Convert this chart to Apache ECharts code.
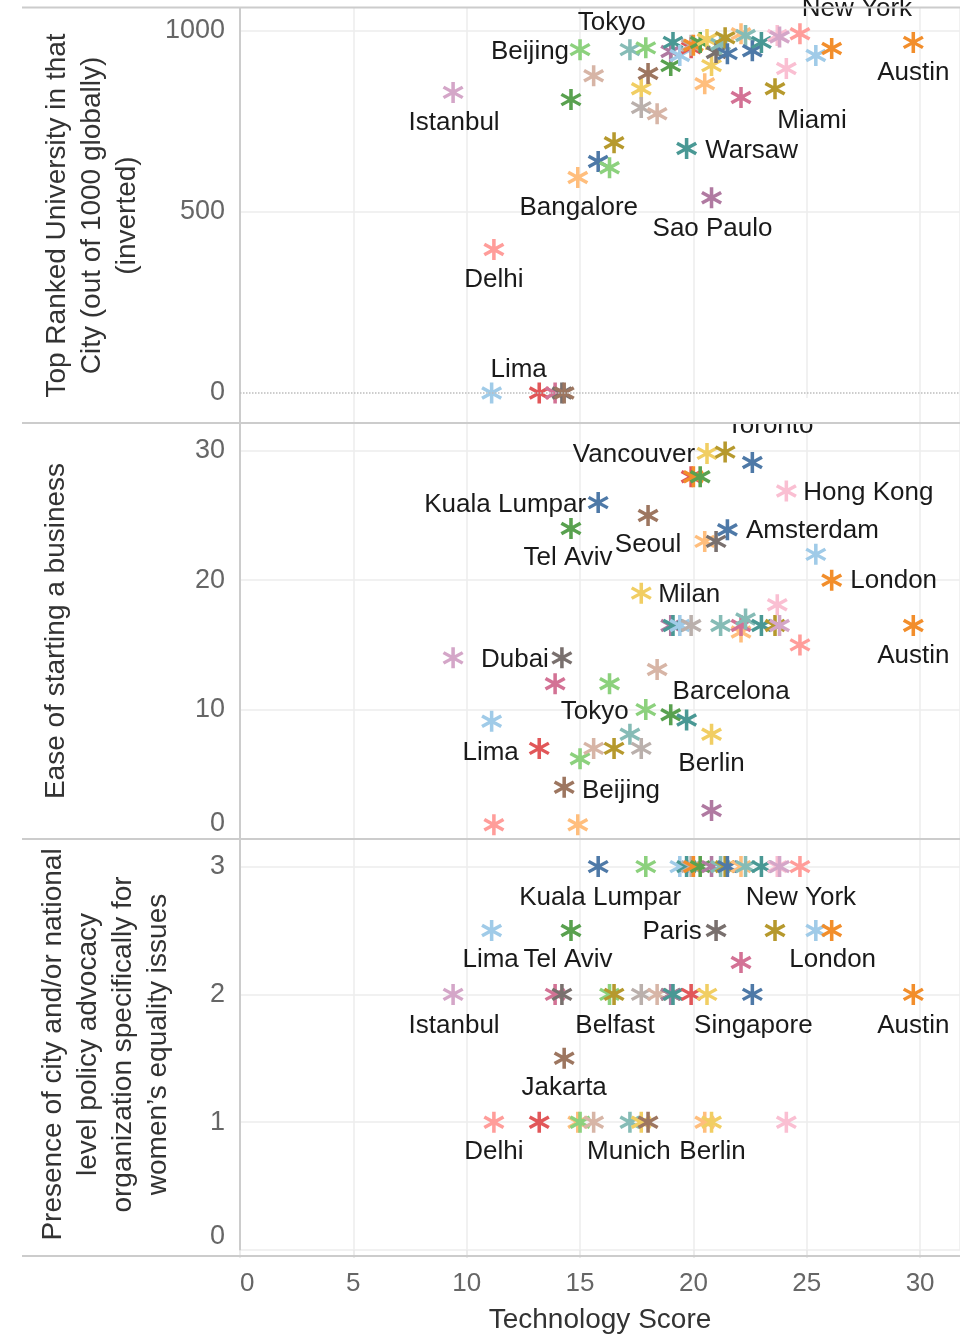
<!DOCTYPE html>
<html>
<head>
<meta charset="utf-8">
<script src="https://cdn.jsdelivr.net/npm/echarts@6/dist/echarts.min.js"></script>
<style>
html,body{margin:0;padding:0;background:#fff}
#main{width:960px;height:1335px}
</style>
</head>
<body>
<div id="main"></div>
<script>
// cities, in order of technology score (unlabelled ones have no name in the picture)
var cities = ['Istanbul','Delhi','Lima','u3','u4','Dubai','Jakarta','Tel Aviv','Bangalore','Beijing',
  'u10','Kuala Lumpar','u12','Belfast','Munich','Milan','u16','Tokyo','Seoul','Barcelona',
  'u20','u21','u22','u23','Warsaw','u25','u26','u27','u28','u29',
  'Vancouver','Sao Paulo','Berlin','Paris','u34','Toronto','Amsterdam','u37','u38','u39',
  'Singapore','u41','Miami','u43','u44','Hong Kong','New York','u47','London','Austin'];
var techScore = [9.4,11.2,11.1,13.2,13.9,14.2,14.3,14.6,14.9,15.0,
  15.6,15.8,16.3,16.5,17.2,17.7,17.7,17.9,18.0,18.4,
  19.0,19.0,19.1,19.4,19.7,19.9,19.9,20.0,20.3,20.5,
  20.6,20.8,20.8,21.0,21.2,21.4,21.5,22.1,22.1,22.3,
  22.6,23.0,23.6,23.7,23.8,24.1,24.7,25.4,26.1,29.7];
var topUniversity = [830,396,0,0,0,0,0,810,595,948,
  876,639,622,691,948,840,788,953,882,771,
  904,943,968,932,675,953,960,960,968,854,
  976,539,904,940,963,981,937,992,816,987,
  945,968,840,987,983,896,992,932,951,968];
var easeOfBusiness = [14,1.1,9.1,7,12,14,4,24,1.1,6.2,
  7,26,12,7,8.1,19,7,10,25,13.1,
  9.6,16.5,16.5,16.5,9.2,28,16.5,28,28,23,
  29.8,2.2,8.1,23,16.5,29.9,23.9,16,16.5,17,
  29.1,16.5,16.5,18.1,16.5,26.9,15,22,20,16.5];
var advocacyOrg = [2,1,2.5,1,2,2,1.5,2.5,1,1,
  1,3,2,2,1,1,2,3,1,2,
  2,2,2,3,3,2,3,3,3,1,
  2,3,1,2.5,3,3,3,3,2.25,3,
  2,3,2.5,3,3,1,3,2.5,2.5,2];
var cityHue = ['lightPurple','salmon','lightBlue','red','pink','gray','brown','green','lightOrange','lightGreen',
  'lightBrown','blue','lightGreen','olive','lightTeal','yellow','lightGray','lightGreen','brown','lightBrown',
  'green','purple','teal','lightBlue','teal','red','lightGray','orange','green','lightOrange',
  'yellow','purple','yellow','gray','lightTeal','olive','blue','lightOrange','pink','lightTeal',
  'blue','teal','olive','lightPink','lightPurple','lightPink','salmon','lightBlue','orange','orange'];
var xTicks = [0,5,10,15,20,25,30];
var uniTicks = [0,500,1000];

var palette = {
  blue:'#4E79A7', lightBlue:'#A0CBE8', orange:'#F28E2B', lightOrange:'#FFBE7D',
  green:'#59A14F', lightGreen:'#8CD17D', olive:'#B6992D', yellow:'#F1CE63',
  teal:'#499894', lightTeal:'#86BCB6', red:'#E15759', salmon:'#FF9D9A',
  gray:'#79706E', lightGray:'#BAB0AC', pink:'#D37295', lightPink:'#FABFD2',
  purple:'#B07AA1', lightPurple:'#D4A6C8', brown:'#9D7660', lightBrown:'#D7B5A6'
};

// where each label sits relative to its point, per panel
var labelsTop = {'Tokyo':[-34,-25],'Beijing':[-50,2],'Istanbul':[1,30],'Bangalore':[1,30],'Delhi':[0,30],
  'Lima':[27,-23],'Warsaw':[65,2],'Sao Paulo':[1,31],'Miami':[37,32],'Austin':[0,30],'New York':[57,-25]};
var labelsMid = {'Toronto':[45,-26],'Vancouver':[-73,1],'Kuala Lumpar':[-93,2],'Seoul':[0,29],'Tel Aviv':[-3,29],
  'Hong Kong':[82,2],'Amsterdam':[85,1],'London':[62,1],'Milan':[48,2],'Austin':[0,30],'Dubai':[-47,2],
  'Barcelona':[74,22],'Tokyo':[-51,2],'Lima':[-1,32],'Berlin':[0,30],'Beijing':[41,32]};
var labelsBot = {'Kuala Lumpar':[2,31],'New York':[1,31],'Paris':[-44,1],'Lima':[-1,29],'Tel Aviv':[-3,29],
  'London':[1,29],'Istanbul':[1,31],'Belfast':[1,31],'Singapore':[1,31],'Austin':[0,31],'Jakarta':[0,30],
  'Delhi':[0,30],'Munich':[-1,30],'Berlin':[1,30]};

var FONT = "'Liberation Sans', Arial, sans-serif";
var star = 'path://M42,0H58V100H42Z M89.3,18.1L97.3,31.9L10.7,81.9L2.7,68.1Z M10.7,18.1L97.3,68.1L89.3,81.9L2.7,31.9Z';

function panelData(values, labels) {
  return cities.map(function (name, i) {
    var item = {name: name, value: [techScore[i], values[i]],
      itemStyle: {color: palette[cityHue[i]], opacity: 1}};
    if (labels[name]) {
      item.label = {show: true, formatter: '{b}', position: ['50%', '50%'], align: 'center',
        verticalAlign: 'middle', offset: labels[name], color: '#1a1a1a', fontSize: 26,
        fontFamily: FONT, textBorderWidth: 0};
    }
    return item;
  });
}
function plain(v) { return String(v); }

var gridLine = {show: true, lineStyle: {color: '#ececec', width: 1.5}};
function xAxisFor(idx, bottom) {
  return {
    gridIndex: idx, type: 'value', min: 0, max: 31.76, interval: 5,
    axisLine: {show: false},
    axisTick: {show: bottom, length: 8, lineStyle: {color: '#e6e6e6', width: 1.5}},
    axisLabel: {show: bottom, fontSize: 26, color: '#666', margin: 21, fontFamily: FONT,
      showMaxLabel: false, alignMinLabel: 'left', formatter: plain},
    splitLine: gridLine,
    name: bottom ? 'Technology Score' : '', nameLocation: 'middle', nameGap: 56,
    nameTextStyle: {fontSize: 28, color: '#333', fontFamily: FONT}
  };
}
var yCommon = {
  type: 'value', nameLocation: 'middle', nameRotate: 90,
  nameTextStyle: {fontSize: 28, color: '#333', lineHeight: 35, fontFamily: FONT, align: 'center'},
  axisLine: {show: true, lineStyle: {color: '#cccccc', width: 2}},
  axisTick: {show: false},
  splitLine: gridLine
};
function yAxisFor(extra) {
  var o = {};
  for (var k in yCommon) o[k] = yCommon[k];
  for (var e in extra) o[e] = extra[e];
  return o;
}

var chart = echarts.init(document.getElementById('main'));
chart.setOption({
  animation: false,
  backgroundColor: '#fff',
  textStyle: {fontFamily: FONT},
  grid: [
    {left: 240, right: 0, top: 8, height: 415},
    {left: 240, right: 0, top: 423, height: 416},
    {left: 240, right: 0, top: 839, height: 417}
  ],
  xAxis: [xAxisFor(0, false), xAxisFor(1, false), xAxisFor(2, true)],
  yAxis: [
    yAxisFor({gridIndex: 0, min: -83, max: 1063,
      name: 'Top Ranked University in that\nCity (out of 1000 globally)\n(inverted)', nameGap: 95,
      axisTick: {show: false, customValues: uniTicks.slice(1)},
      axisLabel: {customValues: uniTicks, fontSize: 27, color: '#666', margin: 15, fontFamily: FONT,
        formatter: plain}}),
    yAxisFor({gridIndex: 1, min: 0, max: 32.15, interval: 10,
      name: 'Ease of starting a business', nameGap: 166,
      axisLabel: {fontSize: 27, color: '#666', margin: 15, fontFamily: FONT, showMaxLabel: false,
        verticalAlignMinLabel: 'bottom', padding: [0, 0, 2, 0], formatter: plain}}),
    yAxisFor({gridIndex: 2, min: 0, max: 3.216, interval: 1,
      name: 'Presence of city and/or national\nlevel policy advocacy\norganization specifically for\nwomen\u2019s equality issues',
      nameGap: 64,
      axisLabel: {fontSize: 27, color: '#666', margin: 15, fontFamily: FONT, showMaxLabel: false,
        verticalAlignMinLabel: 'bottom', padding: [0, 0, 0, 0], formatter: plain}})
  ],
  series: [
    {type: 'scatter', xAxisIndex: 0, yAxisIndex: 0, symbol: star, symbolSize: 21,
      data: panelData(topUniversity, labelsTop),
      markLine: {silent: true, symbol: 'none', label: {show: false},
        lineStyle: {type: 'dotted', color: '#bdbdbd', width: 1.5}, data: [{yAxis: 0}]}},
    {type: 'scatter', xAxisIndex: 1, yAxisIndex: 1, symbol: star, symbolSize: 21,
      data: panelData(easeOfBusiness, labelsMid)},
    {type: 'scatter', xAxisIndex: 2, yAxisIndex: 2, symbol: star, symbolSize: 21,
      data: panelData(advocacyOrg, labelsBot)}
  ],
  graphic: [
    // hide the part of the Toronto label that spills above its panel
    {type: 'rect', z: 50, shape: {x: 700, y: 398, width: 140, height: 24}, style: {fill: '#fff'}},
    {type: 'line', z: 60, shape: {x1: 22, y1: 7.5, x2: 960, y2: 7.5}, style: {stroke: '#cccccc', lineWidth: 2}},
    {type: 'line', z: 60, shape: {x1: 22, y1: 423, x2: 960, y2: 423}, style: {stroke: '#cccccc', lineWidth: 2}},
    {type: 'line', z: 60, shape: {x1: 22, y1: 839, x2: 960, y2: 839}, style: {stroke: '#cccccc', lineWidth: 2}},
    {type: 'line', z: 60, shape: {x1: 22, y1: 1256, x2: 960, y2: 1256}, style: {stroke: '#cccccc', lineWidth: 2}}
  ]
});
</script>
</body>
</html>
